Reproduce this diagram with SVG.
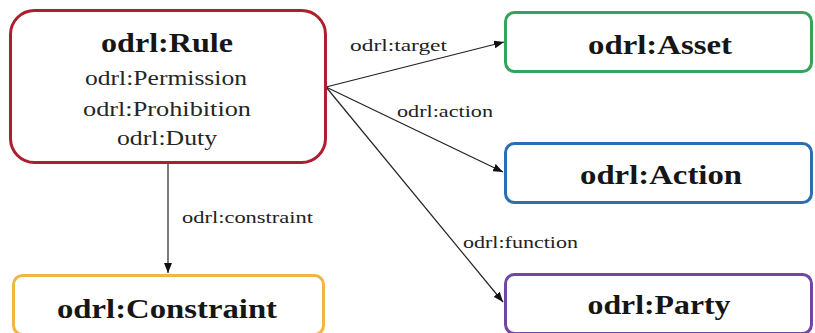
<svg xmlns="http://www.w3.org/2000/svg" width="815" height="333" viewBox="0 0 815 333">
<style>
.box{fill:#fff;stroke-width:3}
.h{font-family:"Liberation Serif",serif;font-weight:bold;font-size:27px;fill:#161616;text-anchor:middle}
.s{font-family:"Liberation Serif",serif;font-size:22px;fill:#262626;text-anchor:middle}
.l{font-family:"Liberation Serif",serif;font-size:17px;fill:#222}
.e{stroke:#222;stroke-width:1.2;fill:none;marker-end:url(#arr)}
</style>
<defs>
<marker id="arr" viewBox="0 0 10 8" refX="10" refY="4" markerWidth="10" markerHeight="8" markerUnits="userSpaceOnUse" orient="auto">
<path d="M0,0 L10,4 L0,8 Z" fill="#111"/>
</marker>
</defs>
<rect width="815" height="333" fill="#fff"/>
<g id="connectors">
<line class="e" x1="168" y1="163" x2="168" y2="273"/>
<line class="e" x1="326" y1="87" x2="504" y2="42"/>
<line class="e" x1="326" y1="87" x2="503" y2="172"/>
<line class="e" x1="326" y1="87" x2="503" y2="302"/>
<text class="l" x="350" y="51" textLength="97" lengthAdjust="spacingAndGlyphs">odrl:target</text>
<text class="l" x="397" y="117" textLength="96" lengthAdjust="spacingAndGlyphs">odrl:action</text>
<text class="l" x="463" y="248" textLength="115" lengthAdjust="spacingAndGlyphs">odrl:function</text>
<text class="l" x="182" y="223" textLength="131" lengthAdjust="spacingAndGlyphs">odrl:constraint</text>
</g>
<g id="rule">
<rect class="box" x="10.5" y="10.5" width="315" height="152" rx="24" stroke="#ad1f2e"/>
<text class="h" x="167" y="52" font-size="26" textLength="132" lengthAdjust="spacingAndGlyphs">odrl:Rule</text>
<text class="s" x="166" y="85" textLength="162" lengthAdjust="spacingAndGlyphs">odrl:Permission</text>
<text class="s" x="167" y="116" textLength="168" lengthAdjust="spacingAndGlyphs">odrl:Prohibition</text>
<text class="s" x="167" y="145" textLength="100" lengthAdjust="spacingAndGlyphs">odrl:Duty</text>
</g>
<g id="asset">
<rect class="box" x="505.5" y="12.5" width="306" height="59" rx="9" stroke="#35a35a"/>
<text class="h" x="660" y="54" textLength="144" lengthAdjust="spacingAndGlyphs">odrl:Asset</text>
</g>
<g id="action">
<rect class="box" x="505.5" y="143.5" width="306" height="59" rx="9" stroke="#2b6fb0"/>
<text class="h" x="661" y="184" textLength="162" lengthAdjust="spacingAndGlyphs">odrl:Action</text>
</g>
<g id="party">
<rect class="box" x="505.5" y="274.5" width="306" height="59" rx="9" stroke="#7048a4"/>
<text class="h" x="659" y="314" textLength="143" lengthAdjust="spacingAndGlyphs">odrl:Party</text>
</g>
<g id="constraint">
<rect class="box" x="13.5" y="275.5" width="310" height="59" rx="9" stroke="#f0b545"/>
<text class="h" x="167" y="318" textLength="220" lengthAdjust="spacingAndGlyphs">odrl:Constraint</text>
</g>
</svg>
